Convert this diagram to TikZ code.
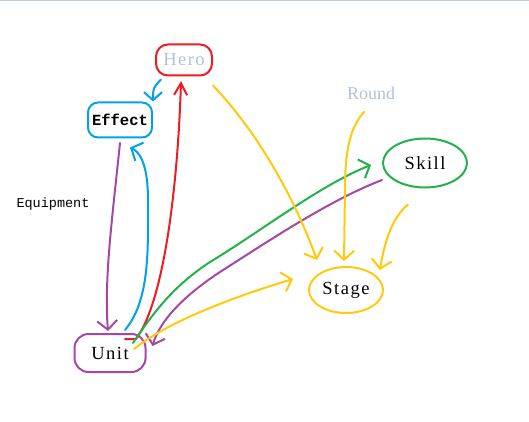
\documentclass[tikz,border=0pt]{standalone}
\usepackage{fontspec}
\setmainfont{Liberation Serif}
\setmonofont{Liberation Mono}
\usetikzlibrary{arrows.meta}
\usetikzlibrary{shapes.geometric}
\usetikzlibrary{calc}

\definecolor{paintred}{RGB}{237,28,36}
\definecolor{paintblue}{RGB}{0,162,232}
\definecolor{paintpurple}{RGB}{163,73,164}
\definecolor{paintgreen}{RGB}{34,177,76}
\definecolor{paintyellow}{RGB}{255,201,14}
\definecolor{palelabel}{RGB}{180,192,215}
\definecolor{topline}{RGB}{195,205,225}

\begin{document}
\begin{tikzpicture}[
		x=1pt, y=-1pt,
		blob/.style={draw, line width=2pt, inner sep=0pt},
		wordlabel/.style={font=\fontsize{18.5}{20}\selectfont\addfontfeature{LetterSpace=8}},
		stroke/.style={line width=2pt, line cap=round, line join=round,
			-{Straight Barb[length=9pt,width=20pt,line width=2pt]}}
	]
	\useasboundingbox (0,0) rectangle (529,422);
	\draw[topline, line width=1.5pt] (0,0.75) -- (529,0.75);

	\node[blob, draw=paintred, rounded corners=12pt, minimum width=56pt, minimum height=31pt,
		wordlabel, text=palelabel] (hero) at (184,60) {Hero};
	\node[blob, draw=paintblue, rounded corners=10pt, minimum width=64pt, minimum height=35pt,
		font=\ttfamily\bfseries\fontsize{15.5}{17}\selectfont] (effect) at (120,120) {Effect};
	\node[font=\ttfamily\fontsize{13.5}{15}\selectfont] (equipment) at (53,204) {Equipment};
	\node[text=palelabel, font=\fontsize{18}{20}\selectfont] (round) at (371,93) {Round};
	\node[blob, ellipse, draw=paintgreen, minimum width=84pt, minimum height=49pt,
		wordlabel] (skill) at (425,163) {Skill};
	\node[blob, ellipse, draw=paintyellow, minimum width=74pt, minimum height=46pt,
		wordlabel] (stage) at (346,290) {Stage};
	\node[blob, draw=paintpurple, rounded corners=14pt, minimum width=71pt, minimum height=38pt,
		wordlabel] (unit) at (110,353) {Unit};

	% unit to hero
	\draw[stroke, paintred, -{Straight Barb[length=12pt,width=13pt,line width=2pt]}]
		($(unit.north)+(15,6)$) -- ++(11,0) .. controls (165,300) and (178,180) .. ($(hero.south)+(-3,4.5)$);
	% hero to effect
	\draw[stroke, paintblue, -{Straight Barb[length=8pt,width=18pt,line width=2pt]}]
		($(hero.south west)+(6,3)$) .. controls (153,88) .. (effect.north east);
	% unit to effect
	\draw[stroke, paintblue]
		($(unit.north)+(15,-3)$) .. controls (150,300) and (148,250) .. (148,200)
		.. controls (148,165) and (140,152) .. ($(effect.south)+(10,9)$);
	% effect to unit
	\draw[stroke, paintpurple]
		($(effect.south)+(0,4.5)$) .. controls (112,220) and (104,280) .. ($(unit.north)+(-2,-2)$);
	% unit to skill
	\draw[stroke, paintgreen]
		($(unit.center)+(23,-10)$) .. controls (155,310) and (175,285) .. (210,262)
		.. controls (260,232) and (320,185) .. ($(skill.west)+(-11,2)$);
	% skill to unit
	\draw[stroke, paintpurple]
		($(skill.west)+(0,17)$) .. controls (330,200) and (270,240) .. (220,272)
		.. controls (185,295) and (160,320) .. ($(unit.east)+(6,-7)$);
	% to stage
	\draw[stroke, paintyellow]
		($(unit.center)+(24,-4)$) .. controls (170,320) and (240,295) .. ($(stage.west)+(-15,-11)$);
	\draw[stroke, paintyellow]
		($(hero.south east)+(0,9)$) .. controls (260,135) and (295,200) .. ($(stage.north)+(-29,-6)$);
	\draw[stroke, paintyellow]
		($(round.south)+(-7,9)$) .. controls (350,128) and (345,150) .. (345,190) -- ($(stage.north)+(-2,-5)$);
	\draw[stroke, paintyellow]
		($(skill.south)+(-17,16)$) .. controls (392,218) and (385,240) .. ($(stage.north east)+(7,-3)$);
\end{tikzpicture}
\end{document}
